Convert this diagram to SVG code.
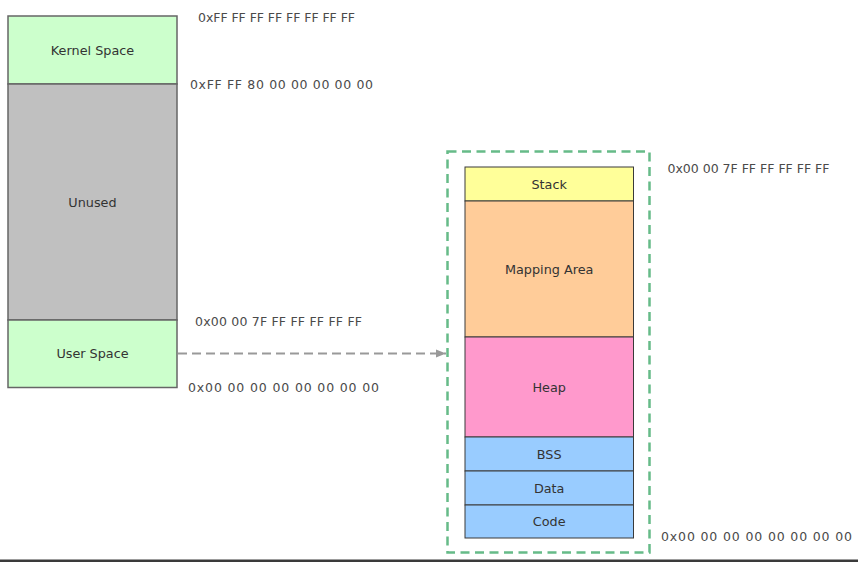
<svg xmlns="http://www.w3.org/2000/svg" width="858" height="562" viewBox="0 0 858 562">
<defs>
<style>
.lbl{font-family:"DejaVu Sans","Liberation Sans",sans-serif;font-size:12.8px;fill:#333;text-anchor:middle}
.hex{font-family:"DejaVu Sans","Liberation Sans",sans-serif;font-size:12.5px;fill:#4a4a4a}
.lbox{stroke:#666;stroke-width:1.5}
.rbox{stroke:#3a3a3a;stroke-width:1}
.green{fill:#CCFFCC}
.gray{fill:#C0C0C0}
.blue{fill:#99CCFF}
</style>
<marker id="arr" viewBox="0 0 10 10" refX="10" refY="5" markerWidth="10" markerHeight="10" markerUnits="userSpaceOnUse" orient="auto">
<path d="M0,1 L10,5 L0,9 Z" fill="#999"/>
</marker>
</defs>
<rect width="858" height="562" fill="#fff"/>

<g id="kernel-space">
<rect class="lbox green" x="8" y="16" width="169" height="68"/>
<text class="lbl" x="92.5" y="54.5">Kernel Space</text>
</g>
<g id="unused">
<rect class="lbox gray" x="8" y="84" width="169" height="236"/>
<text class="lbl" x="92.5" y="207">Unused</text>
</g>
<g id="user-space">
<rect class="lbox green" x="8" y="320" width="169" height="67.5"/>
<text class="lbl" x="92.5" y="358">User Space</text>
</g>

<g id="left-addresses">
<text class="hex" x="198" y="22" textLength="157" lengthAdjust="spacing">0xFF FF FF FF FF FF FF FF</text>
<text class="hex" x="190" y="88.5" textLength="183" lengthAdjust="spacing">0xFF FF 80 00 00 00 00 00</text>
<text class="hex" x="195" y="325.5" textLength="167" lengthAdjust="spacing">0x00 00 7F FF FF FF FF FF</text>
<text class="hex" x="188" y="392" textLength="191" lengthAdjust="spacing">0x00 00 00 00 00 00 00 00</text>
</g>

<g id="user-space-detail">
<rect x="447.5" y="151.5" width="202" height="401" fill="none" stroke="#66BB88" stroke-width="2.5" stroke-dasharray="9 5.5"/>
</g>
<g id="stack">
<rect class="rbox" x="465" y="167" width="168.5" height="34" fill="#FFFF99"/>
<text class="lbl" x="549.2" y="188.5">Stack</text>
</g>
<g id="mapping-area">
<rect class="rbox" x="465" y="201" width="168.5" height="136" fill="#FFCC99"/>
<text class="lbl" x="549.2" y="273.5">Mapping Area</text>
</g>
<g id="heap">
<rect class="rbox" x="465" y="337" width="168.5" height="100" fill="#FF99CC"/>
<text class="lbl" x="549.2" y="391.5">Heap</text>
</g>
<g id="bss">
<rect class="rbox blue" x="465" y="437" width="168.5" height="34"/>
<text class="lbl" x="549.2" y="458.5">BSS</text>
</g>
<g id="data">
<rect class="rbox blue" x="465" y="471" width="168.5" height="34"/>
<text class="lbl" x="549.2" y="492.5">Data</text>
</g>
<g id="code">
<rect class="rbox blue" x="465" y="505" width="168.5" height="33"/>
<text class="lbl" x="549.2" y="526">Code</text>
</g>

<g id="right-addresses">
<text class="hex" x="667.5" y="172.5" textLength="162" lengthAdjust="spacing">0x00 00 7F FF FF FF FF FF</text>
<text class="hex" x="661" y="540.5" textLength="191" lengthAdjust="spacing">0x00 00 00 00 00 00 00 00</text>
</g>

<g id="connectors">
<line x1="178" y1="353.5" x2="446" y2="353.5" stroke="#999" stroke-width="2" stroke-dasharray="9 5" marker-end="url(#arr)"/>
</g>

<rect x="0" y="559.5" width="858" height="2.5" fill="#3a3a3a"/>
</svg>
